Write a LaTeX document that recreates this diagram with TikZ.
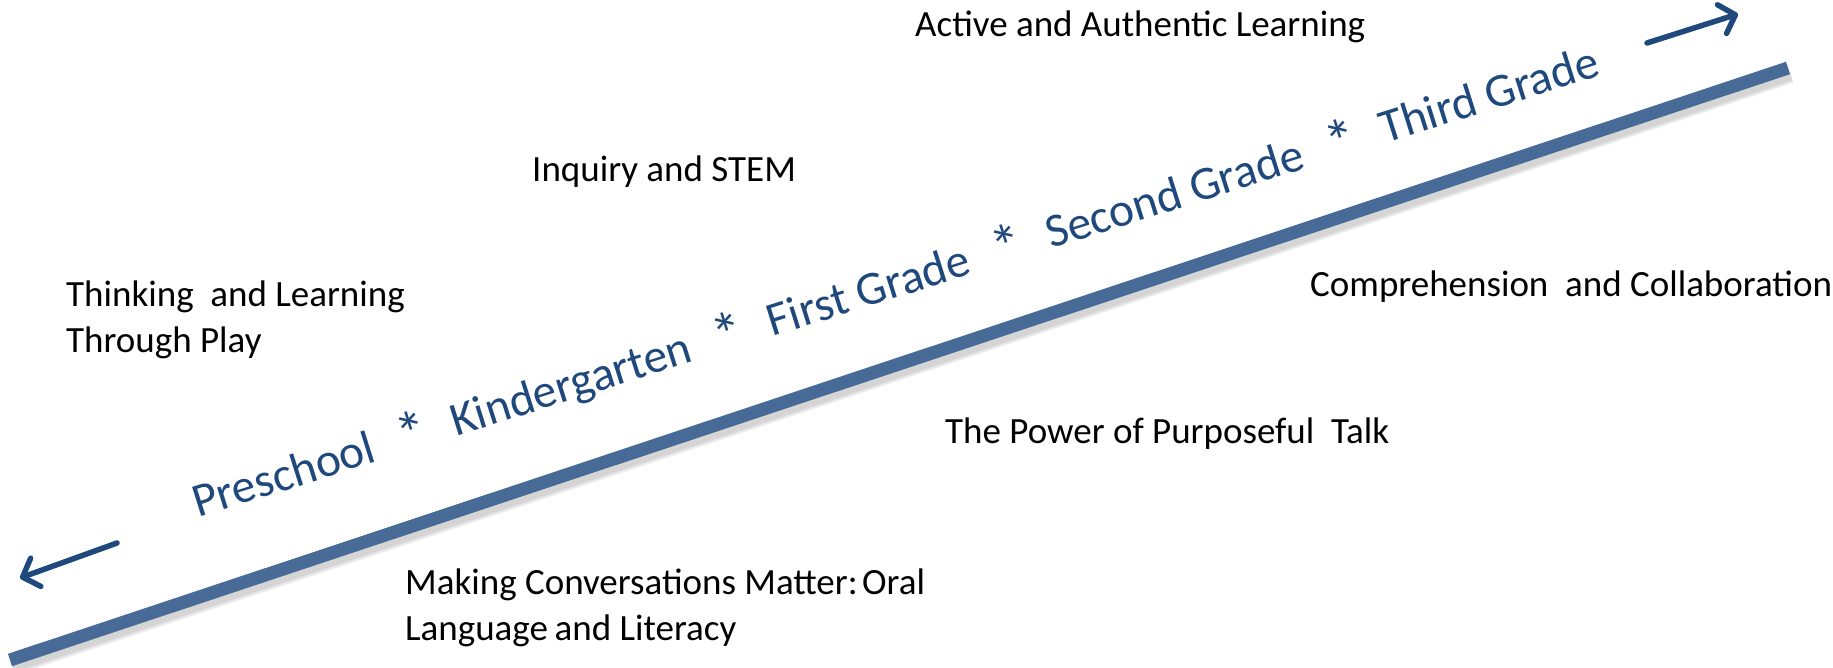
\documentclass[tikz,border=0pt]{standalone}
\usepackage{fontspec}
\setmainfont{Carlito}
\usetikzlibrary{arrows.meta}
\definecolor{barblue}{RGB}{72,106,150}
\definecolor{arrblue}{RGB}{31,73,125}
\definecolor{txtblue}{RGB}{31,73,125}
\tikzset{
  lbl/.style={anchor=base west, inner sep=0pt, font=\fontsize{37}{46}\selectfont, text=black, align=left},
  grades/.style={anchor=base west, inner sep=0pt, font=\fontsize{47.5}{56}\selectfont, text=txtblue, rotate=17.5},
  bar/.style={line width=13pt, draw=barblue, line cap=butt},
  barshadow/.style={line cap=butt, draw=black, opacity=0.06},
  dirarrow/.style={line width=5.5pt, draw=arrblue, line cap=round,
    -{Straight Barb[length=14pt,width=30pt,round]}}
}
\newcommand{\gsep}{\hspace{0.54em}\raisebox{-0.12em}{\scalebox{1.3}{*}}\hspace{0.54em}}
\begin{document}
\begin{tikzpicture}[x=1pt,y=-1pt]
\useasboundingbox (0,0) rectangle (1833,668);
% main bar
\coordinate (barA) at (10,660);
\coordinate (barB) at (1788,68);
\foreach \w in {21,18,15}{
  \draw[barshadow, line width=\w pt] ([shift={(2,5)}]barA) -- ([shift={(2,5)}]barB);
}
\draw[bar] (barA) -- (barB);
% direction arrows
\coordinate (lt) at (117,543);
\coordinate (lh) at (20,578);
\coordinate (rt) at (1647,43);
\coordinate (rh) at (1738,14);
\draw[dirarrow] (lt) -- (lh);
\draw[dirarrow] (rt) -- (rh);
% grade text
\node[grades] (grd) at (198,518) {Preschool\gsep Kindergarten\gsep First Grade\gsep Second Grade\gsep Third Grade};
% labels
\node[lbl] (act) at (915,37) {Active and Authentic Learning};
\node[lbl] (inq) at (532,182) {Inquiry and STEM};
\node[lbl] (thk) at (66,352) {Thinking\ \ and Learning\\Through Play};
\node[lbl] (cmp) at (1310,297) {Comprehension\ \ and Collaboration};
\node[lbl] (pow) at (945,443) {The Power of Purposeful\ \ Talk};
\node[lbl] (mak) at (405,640) {Making Conversations Matter:\hspace{0.12em}Oral\\Language\hspace{0.18em}and Literacy};
\end{tikzpicture}
\end{document}
